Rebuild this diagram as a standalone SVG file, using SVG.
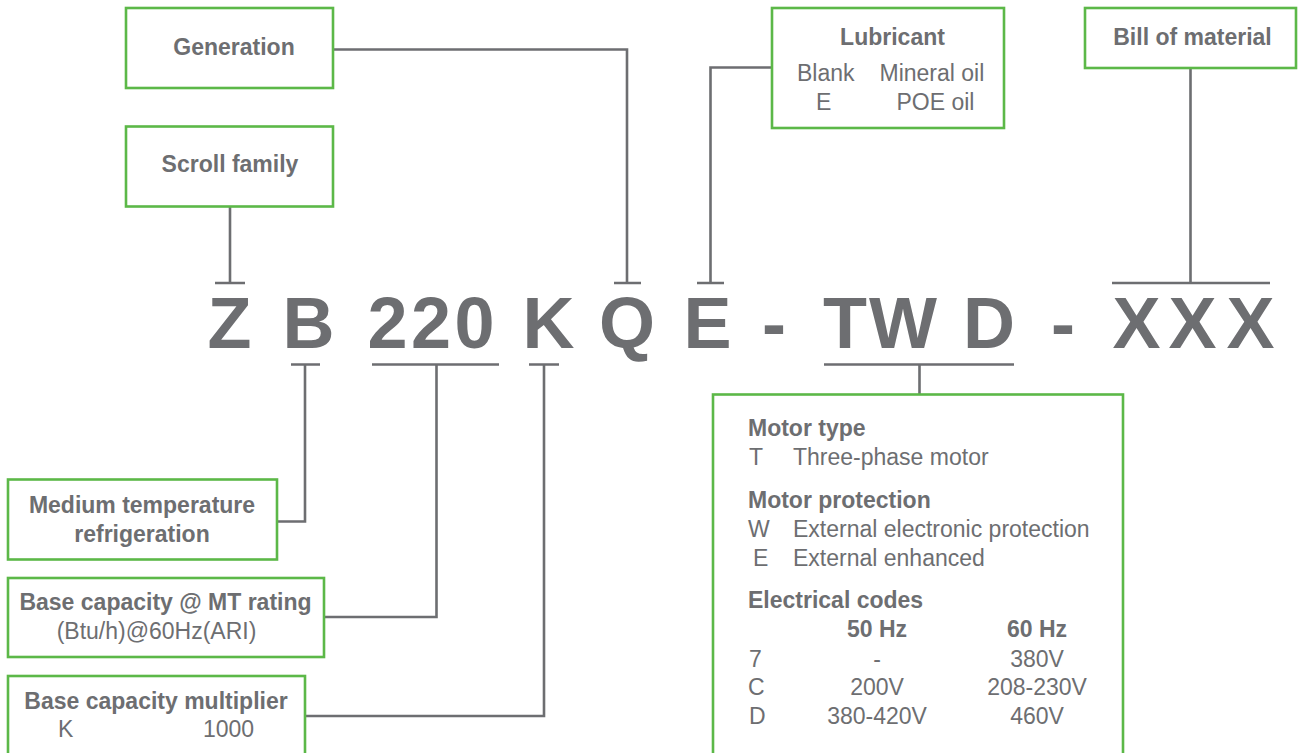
<svg xmlns="http://www.w3.org/2000/svg" width="1300" height="753" viewBox="0 0 1300 753">
<style>
.box{fill:#ffffff;stroke:#5cb848;stroke-width:2.6}
.ln{fill:none;stroke:#6d6e71;stroke-width:2.6}
text{font-family:"Liberation Sans",Arial,sans-serif;fill:#6d6e71;font-size:23px}
.b{font-weight:bold}
.c{text-anchor:middle}
.big{font-weight:bold;font-size:72px;text-anchor:middle}
</style>
<rect width="1300" height="753" fill="#ffffff"/>
<g id="connectors">
<path class="ln" d="M333,49.5 H627 V283 M614,283 H641"/>
<path class="ln" d="M230,206 V283 M215,283 H245"/>
<path class="ln" d="M772,67.5 H710.5 V283 M697,283 H724"/>
<path class="ln" d="M1190.5,68 V283 M1112,283 H1270"/>
<path class="ln" d="M291,364.5 H320 M305,364.5 V521.5 H277"/>
<path class="ln" d="M372,364.5 H499 M436.5,364.5 V617 H324"/>
<path class="ln" d="M529,364.5 H559 M544,364.5 V716 H305"/>
<path class="ln" d="M824,364.5 H1014 M919.5,364.5 V394"/>
</g>
<g id="code">
<text class="big" x="229.5" y="348">Z</text>
<text class="big" x="308.5" y="348">B</text>
<text class="big" x="387.5" y="348">2</text>
<text class="big" x="431" y="348">2</text>
<text class="big" x="474.5" y="348">0</text>
<text class="big" x="548.5" y="348">K</text>
<text class="big" x="627" y="348">Q</text>
<text class="big" x="707.5" y="348">E</text>
<text class="big" x="774" y="348">-</text>
<text class="big" x="845" y="348">T</text>
<text class="big" x="903" y="348">W</text>
<text class="big" x="989" y="348">D</text>
<text class="big" x="1063" y="348">-</text>
<text class="big" x="1136.5" y="348">X</text>
<text class="big" x="1192.5" y="348">X</text>
<text class="big" x="1250.5" y="348">X</text>
</g>
<g id="generation">
<rect class="box" x="126" y="8" width="207" height="80"/>
<text class="b c" x="234" y="55">Generation</text>
</g>
<g id="scroll-family">
<rect class="box" x="126" y="126.5" width="207" height="80"/>
<text class="b c" x="230" y="172">Scroll family</text>
</g>
<g id="lubricant">
<rect class="box" x="772" y="8" width="232" height="120"/>
<text class="b c" x="892.5" y="45">Lubricant</text>
<text x="797" y="81">Blank</text>
<text x="879.5" y="81">Mineral oil</text>
<text x="816" y="110">E</text>
<text x="896.5" y="110">POE oil</text>
</g>
<g id="bill-of-material">
<rect class="box" x="1085" y="8" width="211" height="60"/>
<text class="b c" x="1192.5" y="44.5">Bill of material</text>
</g>
<g id="medium-temperature">
<rect class="box" x="8" y="479.5" width="269" height="80"/>
<text class="b c" x="142" y="513">Medium temperature</text>
<text class="b c" x="142" y="542">refrigeration</text>
</g>
<g id="base-capacity">
<rect class="box" x="8" y="578" width="316" height="79"/>
<text class="b c" x="165.5" y="610">Base capacity @ MT rating</text>
<text class="c" x="156.5" y="638.5">(Btu/h)@60Hz(ARI)</text>
</g>
<g id="base-capacity-multiplier">
<rect class="box" x="8" y="676" width="297" height="100"/>
<text class="b c" x="156" y="708.5">Base capacity multiplier</text>
<text x="58" y="737">K</text>
<text x="203" y="737">1000</text>
</g>
<g id="motor">
<rect class="box" x="713" y="394.5" width="410" height="380"/>
<text class="b" x="748" y="436">Motor type</text>
<text x="749" y="465">T</text>
<text x="793" y="465">Three-phase motor</text>
<text class="b" x="748" y="507.5">Motor protection</text>
<text x="748" y="536.5">W</text>
<text x="793" y="536.5">External electronic protection</text>
<text x="753" y="565.5">E</text>
<text x="793" y="565.5">External enhanced</text>
<text class="b" x="748" y="608">Electrical codes</text>
<text class="b c" x="877" y="637">50 Hz</text>
<text class="b c" x="1037" y="637">60 Hz</text>
<text x="749" y="666.5">7</text>
<text class="c" x="877" y="666.5">-</text>
<text class="c" x="1037" y="666.5">380V</text>
<text x="748" y="695">C</text>
<text class="c" x="877" y="695">200V</text>
<text class="c" x="1037" y="695">208-230V</text>
<text x="749" y="724">D</text>
<text class="c" x="877" y="724">380-420V</text>
<text class="c" x="1037" y="724">460V</text>
</g>
</svg>
